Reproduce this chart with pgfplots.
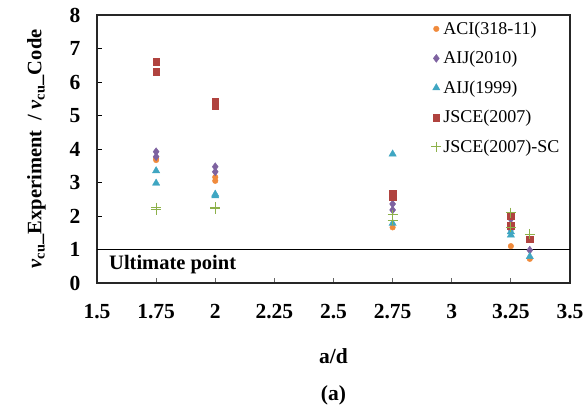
\documentclass[border=0pt]{standalone}
\usepackage{fontspec}
\setmainfont{Liberation Serif}
\usepackage{pgfplots}
\pgfplotsset{compat=1.18}
\definecolor{aciorange}{HTML}{F08A3C}
\definecolor{aijpurple}{HTML}{7E62A0}
\definecolor{aijaqua}{HTML}{3FA6C2}
\definecolor{jscered}{HTML}{B0433F}
\definecolor{jscegreen}{HTML}{8DB14A}

\begin{document}
\begin{tikzpicture}
\begin{axis}[
  scale only axis,
  width=473pt, height=268pt,
  xmin=1.5, xmax=3.5, ymin=0, ymax=8,
  xtick={1.5,1.75,2,2.25,2.5,2.75,3,3.25,3.5},
  xticklabels={1.5,1.75,2,2.25,2.5,2.75,3,3.25,3.5},
  ytick={0,1,...,8},
  yticklabels={0,1,2,3,4,5,6,7,8},
  xtick pos=bottom, ytick pos=left,
  tick align=inside,
  major tick length=5pt,
  x tick style={black!60, line width=0.8pt},
  y tick style={black, line width=0.8pt},
  axis line style={line width=1.6pt, black!85},
  tick label style={font=\fontsize{21.5}{21.5}\selectfont\bfseries},
  xticklabel style={yshift=-18pt},
  yticklabel style={xshift=-13pt},
  xlabel={\textbf{a/d}},
  xlabel style={font=\fontsize{21.5}{21.5}\selectfont, yshift=-23pt},
  ylabel={\textbf{\textit{v}\textsubscript{cu}\_Experiment~~/~\textit{v}\textsubscript{cu}\_Code}},
  ylabel style={font=\fontsize{20.5}{20.5}\selectfont, yshift=17pt},
  legend style={at={(0.7,0.99)}, anchor=north west, draw=none, fill=none,
    font=\fontsize{18}{18}\selectfont, row sep=11.5pt},
  legend cell align=left,
  clip=false,
]
\addplot[only marks, mark=*, mark size=2.8pt, color=aciorange] coordinates {
  (1.75,3.67) (1.75,3.72) (2,3.16) (2,3.05) (2.75,1.66)
  (3.25,1.10) (3.33,0.72)
};
\addlegendentry{ACI(318-11)}
\addplot[only marks, mark=diamond*, mark size=4pt, color=aijpurple] coordinates {
  (1.75,3.92) (1.75,3.77) (2,3.47) (2,3.32) (2.75,2.36) (2.75,2.18)
  (3.25,1.91) (3.25,1.60) (3.33,0.98)
};
\addlegendentry{AIJ(2010)}
\addplot[only marks, mark=triangle*, mark size=4.2pt, color=aijaqua] coordinates {
  (1.75,3.35) (1.75,2.98) (2,2.65) (2,2.60) (2.75,3.85) (2.75,1.78)
  (3.25,1.53) (3.25,1.43) (3.33,0.79)
};
\addlegendentry{AIJ(1999)}
\addplot[only marks, mark=square*, mark size=3.4pt, color=jscered] coordinates {
  (1.75,6.61) (1.75,6.31) (2,5.42) (2,5.30) (2.75,2.68) (2.75,2.58)
  (3.25,2.01) (3.25,1.70) (3.33,1.31)
};
\addlegendentry{JSCE(2007)}
\addplot[only marks, mark=+, mark size=5pt, line width=1pt, color=jscegreen,
  mark options={draw=jscegreen}] coordinates {
  (1.75,2.25) (1.75,2.18) (2,2.26) (2,2.21) (2.75,2.03) (2.75,1.88)
  (3.25,2.10) (3.25,1.66) (3.33,1.45)
};
\addlegendentry{JSCE(2007)-SC}
\addplot[black, line width=1.1pt, forget plot] coordinates {(1.5,1) (3.5,1)};
\node[anchor=north west, font=\fontsize{20.5}{20.5}\selectfont\bfseries, inner sep=2pt]
  at ([xshift=10pt,yshift=-4pt]axis cs:1.5,1) {Ultimate point};
\node[font=\fontsize{21.5}{21.5}\selectfont\bfseries, anchor=north]
  at ([yshift=-99pt]current axis.south) {(a)};
\end{axis}
\path ([xshift=-97pt,yshift=-127pt]current axis.south west)
  rectangle ([xshift=17pt,yshift=15pt]current axis.north east);
\end{tikzpicture}
\end{document}
